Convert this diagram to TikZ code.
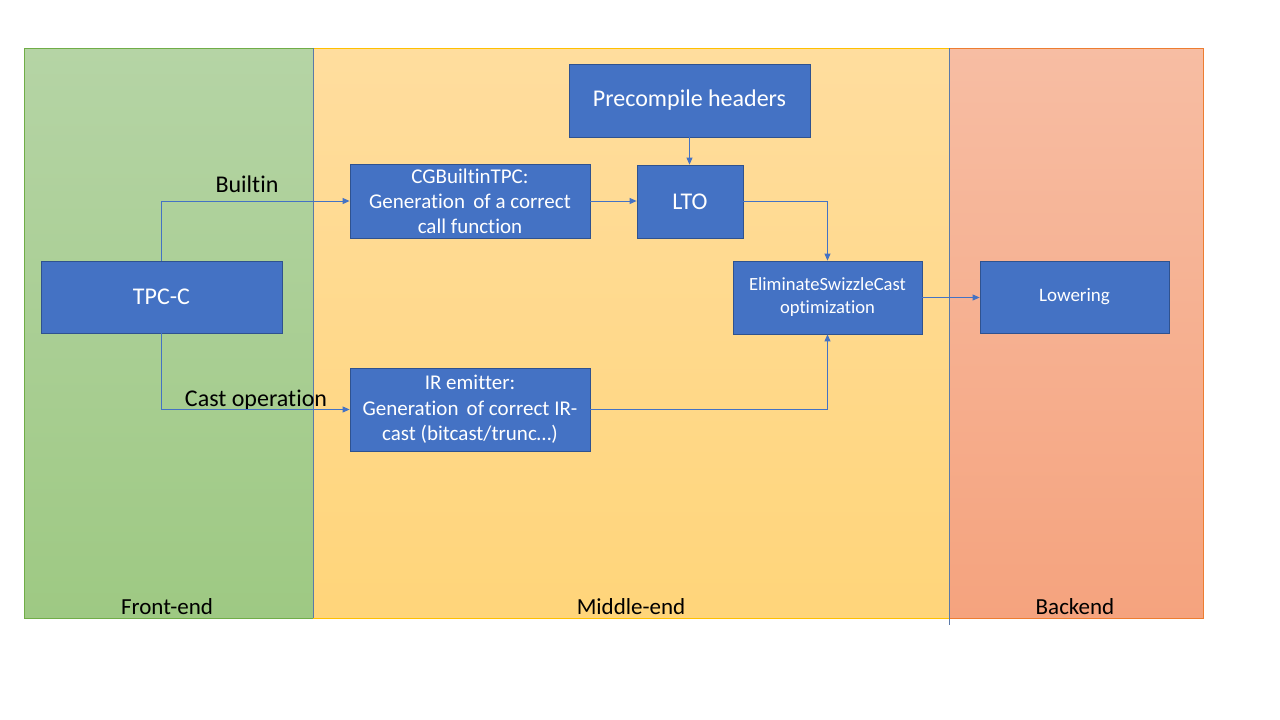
\documentclass[tikz,border=0pt]{standalone}
\usepackage{fontspec}
\setmainfont[Ligatures=CommonOff]{Carlito}
\usetikzlibrary{arrows.meta}
\definecolor{boxblue}{HTML}{4472C4}
\definecolor{boxedge}{HTML}{2F528F}
\definecolor{sepline}{HTML}{5B79A8}
\definecolor{feTop}{HTML}{B5D4A5}
\definecolor{feBot}{HTML}{9EC983}
\definecolor{feEdge}{HTML}{70AD47}
\definecolor{meTop}{HTML}{FFDD9E}
\definecolor{meBot}{HTML}{FFD57A}
\definecolor{meEdge}{HTML}{FFC000}
\definecolor{beTop}{HTML}{F7BDA3}
\definecolor{beBot}{HTML}{F5A37E}
\definecolor{beEdge}{HTML}{ED7D31}
\tikzset{
  procbox/.style={draw=boxedge, line width=0.8pt, fill=boxblue, text=white,
    align=center, inner sep=0pt},
  conn/.style={draw=boxblue, line width=0.9pt, -{Triangle[length=7pt,width=6pt]}},
  panellabel/.style={text=black, font=\fontsize{23}{27}\selectfont},
  edgelabel/.style={text=black, font=\fontsize{24}{28}\selectfont, inner sep=0pt},
}
\begin{document}
\begin{tikzpicture}[x=1pt,y=-1pt]
\useasboundingbox[fill=white] (0,0) rectangle (1280,720);
% panels
\shade[top color=feTop, bottom color=feBot] (24,48) rectangle (313,618);
\draw[feEdge, line width=0.8pt] (313,48) -- (24,48) -- (24,618) -- (313,618);
\shade[top color=meTop, bottom color=meBot] (313,48) rectangle (949,618);
\draw[meEdge, line width=0.8pt] (313,48) -- (949,48);
\draw[meEdge, line width=0.8pt] (313,618) -- (949,618);
\shade[top color=beTop, bottom color=beBot] (949,48) rectangle (1203,618);
\draw[beEdge, line width=0.8pt] (949,48) -- (1203,48) -- (1203,618) -- (949,618);
\draw[sepline, line width=0.8pt] (313,48) -- (313,618);
\draw[sepline, line width=0.8pt] (949,48) -- (949,625);
% panel labels
\node[panellabel] (lblfe) at (167,607) {Front-end};
\node[panellabel] (lblme) at (631,607) {Middle-end};
\node[panellabel] (lblbe) at (1075,607) {Backend};
% boxes
\node[procbox, minimum width=241pt, minimum height=72pt, font=\fontsize{24}{28}\selectfont] (tpc) at (161.5,297) {TPC-C};
\node[procbox, minimum width=240pt, minimum height=74pt, font=\fontsize{21}{25}\selectfont] (cg) at (470,201) {CGBuiltinTPC:\\Generation\ \,of a correct\\call function};
\node[procbox, minimum width=106pt, minimum height=73pt, font=\fontsize{24}{28}\selectfont] (lto) at (690,201.5) {LTO};
\node[procbox, minimum width=241pt, minimum height=73pt, font=\fontsize{24}{28}\selectfont] (pre) at (689.5,100.5) {Precompile headers};
\node[procbox, minimum width=189pt, minimum height=73pt, font=\fontsize{18.6}{23}\selectfont] (elim) at (827.5,297.5) {EliminateSwizzleCast\\optimization};
\node[procbox, minimum width=189pt, minimum height=72pt, font=\fontsize{19}{23}\selectfont] (low) at (1074.5,297) {Lowering};
\node[procbox, minimum width=240pt, minimum height=83pt, font=\fontsize{21}{25.5}\selectfont] (ir) at (470,409.5) {IR emitter:\\Generation\ \,of correct IR-\\cast (bitcast/trunc…)};
% edge labels
\node[edgelabel] (lblbuiltin) at (247,184) {Builtin};
\node[edgelabel] (lblcast) at (256,400) {Cast operation};
% connectors
\draw[conn] (tpc.north) |- (cg.west);
\draw[conn] (tpc.south) |- (ir.west);
\draw[conn] (cg.east) -- (lto.west |- cg.east);
\draw[conn] (pre.south) -- (lto.north -| pre.south);
\draw[conn] (lto.east) -| (elim.north);
\draw[conn] (ir.east) -| (elim.south);
\draw[conn] (elim.east) -- (low.west |- elim.east);
\end{tikzpicture}
\end{document}
